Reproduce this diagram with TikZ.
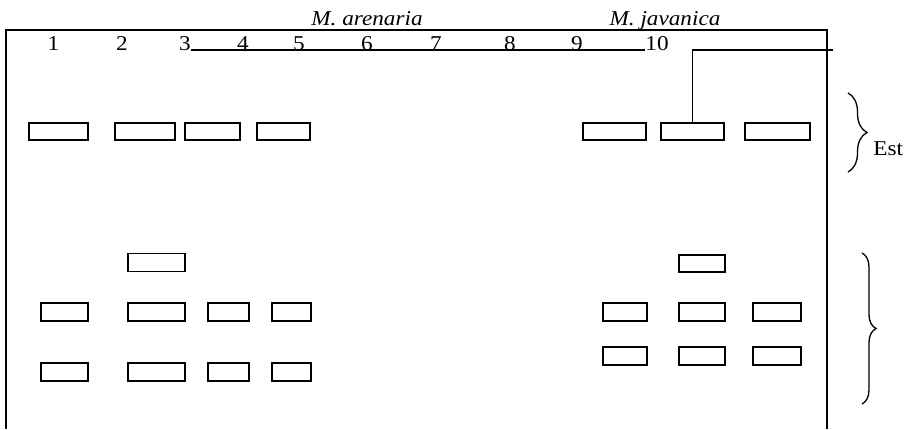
\documentclass[tikz,border=0pt]{standalone}
\usepackage{fontspec}
\setmainfont{Liberation Serif}[FakeStretch=1.1]
\usepackage{tikz}
\usetikzlibrary{positioning,decorations.pathreplacing}
\newlength\px
\setlength\px{0.2mm}

\begin{document}
\begin{tikzpicture}[x=0.2mm, y=-0.2mm,
    band/.style={rectangle, draw, line width=0.85pt, inner sep=0pt, minimum height=17\px},
    lane/.style={inner sep=0pt, anchor=base, font=\fontsize{12}{14}\selectfont},
    species/.style={lane, font=\fontsize{12}{14}\selectfont\itshape},
    bar/.style={line width=0.8pt},
    bracket/.style={decorate, line width=0.75pt}]

    \useasboundingbox (0,0) rectangle (909,429);

    % gel frame, open at the bottom
    \draw[line width=0.6pt] (6,429) -- (6,30) -- (827,30) -- (827,429);

    % species and lane numbers
    \node[species] (arenaria) at (367,25) {M. arenaria};
    \node[species] (javanica) at (665,25) {M. javanica};

    \node[lane] (lane1) at (53.5,50) {1};
    \node[lane] (lane2) at (122,50) {2};
    \node[lane] (lane3) at (185,50) {3};
    \node[lane] (lane4) at (243,50) {4};
    \node[lane] (lane5) at (299,50) {5};
    \node[lane] (lane6) at (367,50) {6};
    \node[lane] (lane7) at (436,50) {7};
    \node[lane] (lane8) at (510,50) {8};
    \node[lane] (lane9) at (577,50) {9};
    \node[lane] (lane10) at (657,50) {10};

    % Est bands
    \node[band, minimum width=59\px] (e1) at (58.5,131.5) {};
    \node[band, minimum width=60\px] (e2) at (145,131.5) {};
    \node[band, minimum width=55\px] (e3) at (212.5,131.5) {};
    \node[band, minimum width=53\px] (e4) at (283.5,131.5) {};
    \node[band, minimum width=63\px] (e5) at (614.5,131.5) {};
    \node[band, minimum width=63\px] (e6) at (692.5,131.5) {};
    \node[band, minimum width=65\px] (e7) at (777.5,131.5) {};

    % lower bands
    \node[band, minimum width=57\px, minimum height=18\px] (a1) at (156.5,262.5) {};
    \node[band, minimum width=46\px] (a2) at (702,263.5) {};

    \node[band, minimum width=47\px, minimum height=18\px] (b1) at (64.5,312) {};
    \node[band, minimum width=57\px, minimum height=18\px] (b2) at (156.5,312) {};
    \node[band, minimum width=41\px, minimum height=18\px] (b3) at (228.5,312) {};
    \node[band, minimum width=39\px, minimum height=18\px] (b4) at (291.5,312) {};
    \node[band, minimum width=44\px, minimum height=18\px] (b5) at (625,312) {};
    \node[band, minimum width=46\px, minimum height=18\px] (b6) at (702,312) {};
    \node[band, minimum width=48\px, minimum height=18\px] (b7) at (777,312) {};

    \node[band, minimum width=47\px, minimum height=18\px] (c1) at (64.5,372) {};
    \node[band, minimum width=57\px, minimum height=18\px] (c2) at (156.5,372) {};
    \node[band, minimum width=41\px, minimum height=18\px] (c3) at (228.5,372) {};
    \node[band, minimum width=39\px, minimum height=18\px] (c4) at (291.5,372) {};
    \node[band, minimum width=44\px, minimum height=18\px] (c5) at (625,356) {};
    \node[band, minimum width=46\px, minimum height=18\px] (c6) at (702,356) {};
    \node[band, minimum width=48\px, minimum height=18\px] (c7) at (777,356) {};

    % lines over the lanes
    \coordinate (jtail) at (833,50);
    \draw[bar] (lane3.base east) -- (lane10.base west);
    \draw[bar] (e6.north) |- (jtail);

    % braces
    \coordinate (esttop) at (848,93);
    \coordinate (estbot) at (848,172);
    \coordinate (lowtop) at (862,253);
    \coordinate (lowbot) at (862,404);
    \draw[bracket, decoration={brace, amplitude=19\px}] (esttop) -- (estbot);
    \draw[bracket, decoration={brace, amplitude=14\px}] (lowtop) -- (lowbot);
    \node[lane, anchor=base west] (est) at (873,155) {Est};

\end{tikzpicture}
\end{document}
